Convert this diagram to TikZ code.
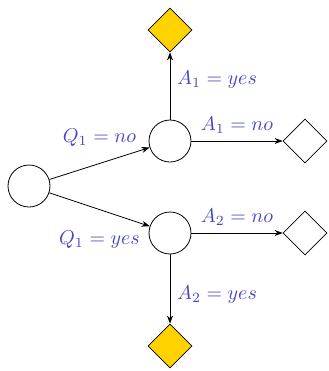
\documentclass[tikz,border=0pt]{standalone}
\usepackage{amsmath}
\usepackage{xcolor}
\usetikzlibrary{arrows.meta,shapes.geometric}
\definecolor{labelblue}{RGB}{70,70,195}
\definecolor{leafgold}{RGB}{255,210,0}

\begin{document}
\begin{tikzpicture}[x=0.5pt,y=-0.5pt,
  question/.style={draw, circle, minimum size=21pt, inner sep=0pt},
  answer/.style={draw, diamond, minimum size=22pt, inner sep=0pt},
  goal/.style={answer, fill=leafgold},
  arrow/.style={-{Stealth[length=4pt,width=3pt]}},
  lbl/.style={text=labelblue}
]
\useasboundingbox (0,0) rectangle (328,371);
\node[question] (root) at (29,186) {};
\node[question] (qno) at (170,141) {};
\node[question] (qyes) at (170,233) {};
\node[goal] (topgoal) at (170,30) {};
\node[answer] (topleaf) at (305,141) {};
\node[answer] (botleaf) at (305,233) {};
\node[goal] (botgoal) at (170,346) {};

\draw[arrow] (root) -- node[lbl, above=5pt, pos=0.5] {$Q_1 = no$} (qno);
\draw[arrow] (root) -- node[lbl, below=7pt, pos=0.5] {$Q_1 = yes$} (qyes);
\draw[arrow] (qno) -- node[lbl, right, pos=0.6] {$A_1 = yes$} (topgoal);
\draw[arrow] (qno) -- node[lbl, above] {$A_1 = no$} (topleaf);
\draw[arrow] (qyes) -- node[lbl, above] {$A_2 = no$} (botleaf);
\draw[arrow] (qyes) -- node[lbl, right, pos=0.58] {$A_2 = yes$} (botgoal);
\end{tikzpicture}
\end{document}
